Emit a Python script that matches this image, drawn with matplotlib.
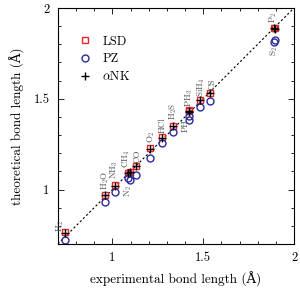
"""
Theoretical vs experimental bond lengths (LSD, PZ, alpha-NK)
"""

###############################################################################
# Libraries
import numpy as np
import matplotlib
matplotlib.use('Agg')
import matplotlib.pyplot as plt

plt.rcParams['font.family'] = ['cmr10', 'DejaVu Serif']
plt.rcParams['mathtext.fontset'] = 'cm'
plt.rcParams['axes.unicode_minus'] = False
plt.rcParams['axes.formatter.use_mathtext'] = True

####################################
# Data (bond lengths in Angstrom)
molecules = ['H$_2$', 'H$_2$O', 'NH$_3$', 'CH$_4$', 'N$_2$', 'CO', 'O$_2$',
             'HCl', 'H$_2$S', 'PH', 'PH$_3$', 'SiH$_4$', 'CS', 'P$_2$', 'S$_2$']
exp = [0.741, 0.958, 1.012, 1.087, 1.098, 1.128, 1.207,
       1.275, 1.336, 1.422, 1.421, 1.480, 1.535, 1.893, 1.889]
lsd = [0.765, 0.970, 1.024, 1.093, 1.097, 1.129, 1.226,
       1.287, 1.352, 1.436, 1.430, 1.494, 1.533, 1.888, 1.889]
pz = [0.722, 0.932, 0.987, 1.064, 1.055, 1.079, 1.176,
      1.256, 1.315, 1.405, 1.385, 1.454, 1.485, 1.825, 1.815]
nk = [0.763, 0.968, 1.022, 1.091, 1.095, 1.127, 1.224,
      1.285, 1.350, 1.434, 1.428, 1.492, 1.531, 1.886, 1.887]

####################################
# Label placement: (anchor series, dx, dy, side) in pixels
place = {'H$_2$': ('lsd', -5, 0, 'up'), 'H$_2$O': ('lsd', 0, 5, 'up'),
         'NH$_3$': ('lsd', 0, 6, 'up'), 'CH$_4$': ('lsd', -2, 5, 'up'),
         'N$_2$': ('pz', -2, -6, 'down'), 'CO': ('lsd', 2, 3, 'up'),
         'O$_2$': ('lsd', 1, 5, 'up'), 'HCl': ('lsd', 0, 4, 'up'),
         'H$_2$S': ('lsd', 0, 6, 'up'), 'PH': ('pz', -4, -3, 'down'),
         'PH$_3$': ('lsd', 0, 4, 'up'), 'SiH$_4$': ('lsd', 2, 3, 'up'),
         'CS': ('lsd', 3, 3, 'up'), 'P$_2$': ('lsd', -1, 5, 'up'),
         'S$_2$': ('pz', 0, -4, 'down')}

####################################
# Plot
fig = plt.figure(figsize=(3.0, 2.95), dpi=100)
ax = fig.add_axes([0.193, 0.173, 0.787, 0.80])

ax.plot([0.7, 2.0], [0.7, 2.0], color='k', lw=0.8, dashes=(2, 2))
ax.plot(exp, lsd, 's', ms=4.5, mfc='none', mec='#e8262a', mew=1.0, label='LSD')
ax.plot(exp, pz, 'o', ms=5, mfc='none', mec='#2b2ba0', mew=1.0, label='PZ')
ax.plot(exp, nk, '+', ms=6, color='k', mew=1.0, label=r'$\alpha$NK')

for k, name in enumerate(molecules):
    series, dx, dy, side = place[name]
    y = lsd[k] if series == 'lsd' else pz[k]
    ax.annotate(name, (exp[k], y), xytext=(dx, dy), textcoords='offset pixels',
                rotation=90, ha='center', va='bottom' if side == 'up' else 'top',
                fontsize=6.5, color='#555555')

ax.set_xlim(0.7, 2.0)
ax.set_ylim(0.7, 2.0)
ax.set_xticks([1, 1.5, 2])
ax.set_yticks([1, 1.5, 2])
ax.set_xticklabels(['1', '1.5', '2'])
ax.set_yticklabels(['1', '1.5', '2'])
ax.set_xticks(np.arange(0.8, 2.0, 0.1), minor=True)
ax.set_yticks(np.arange(0.8, 2.0, 0.1), minor=True)
ax.tick_params(which='both', direction='in', top=True, right=True,
               labelsize=9, width=0.6)
ax.tick_params(which='major', length=4, pad=6)
ax.tick_params(which='minor', length=2.5)
for s in ax.spines.values():
    s.set_linewidth(0.8)

ax.set_xlabel('experimental bond length (Å)', fontsize=9.5, labelpad=5)
ax.set_ylabel('theoretical bond length (Å)', fontsize=9.5, labelpad=6)

ax.legend(loc='upper left', bbox_to_anchor=(0.04, 0.93), frameon=False,
          numpoints=1, handlelength=1.0, handletextpad=0.9,
          labelspacing=0.4, fontsize=9)

plt.savefig('out.png', dpi=100)
plt.close()
